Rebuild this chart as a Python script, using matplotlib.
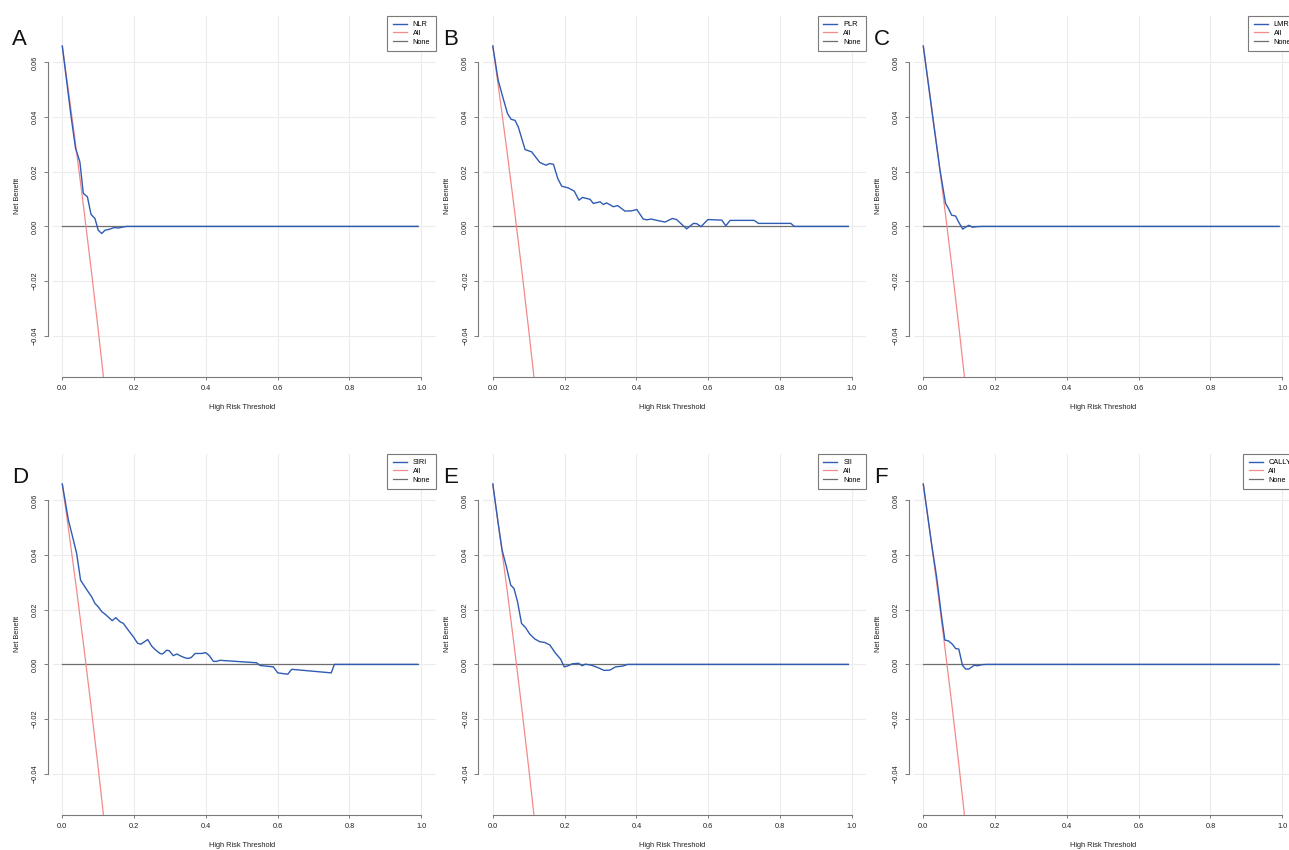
import matplotlib
matplotlib.use("Agg")
import matplotlib.pyplot as plt

# decision curves
thr_all = [0, 0.02, 0.04, 0.06, 0.08, 0.10, 0.12]
nb_all = [0.066, 0.0469, 0.0271, 0.0064, -0.0152, -0.0378, -0.0614]

nlr_x = [0, 0.024, 0.037, 0.043, 0.049, 0.0585, 0.07, 0.08, 0.091, 0.10, 0.11, 0.119, 0.13, 0.145, 0.156, 0.17, 0.18, 0.99]
nlr_y = [0.066, 0.0407, 0.0285, 0.0261, 0.0236, 0.0121, 0.0108, 0.0044, 0.0029, -0.0014, -0.0026, -0.0014, -0.0011, -0.0004, -0.0006, -0.0002, 0, 0]

plr_x = [0, 0.015, 0.029, 0.041, 0.051, 0.062, 0.071, 0.090, 0.108, 0.131, 0.148, 0.159, 0.169, 0.181, 0.192,
         0.210, 0.227, 0.240, 0.250, 0.271, 0.280, 0.299, 0.308, 0.317, 0.336, 0.348, 0.368, 0.387, 0.401, 0.419,
         0.429, 0.441, 0.461, 0.480, 0.500, 0.512, 0.540, 0.559, 0.568, 0.580, 0.599, 0.638, 0.649, 0.661, 0.728,
         0.740, 0.830, 0.840, 0.99]
plr_y = [0.066, 0.0535, 0.0468, 0.0413, 0.0392, 0.0388, 0.0364, 0.0281, 0.0273, 0.0234, 0.0224, 0.0230, 0.0227, 0.0175, 0.0147,
         0.0141, 0.0129, 0.0096, 0.0106, 0.0099, 0.0084, 0.0090, 0.0080, 0.0086, 0.0072, 0.0076, 0.0056, 0.0057, 0.0062, 0.0027,
         0.0024, 0.0027, 0.0021, 0.0016, 0.0029, 0.0025, -0.0009, 0.0011, 0.0010, -0.0001, 0.0025, 0.0023, 0.0002, 0.0022, 0.0022,
         0.0011, 0.0011, 0.0, 0.0]

lmr_x = [0, 0.028, 0.0465, 0.062, 0.070, 0.079, 0.090, 0.098, 0.110, 0.116, 0.127, 0.137, 0.149, 0.163, 0.99]
lmr_y = [0.066, 0.0383, 0.0206, 0.0084, 0.0066, 0.0041, 0.0038, 0.0017, -0.0010, -0.0004, 0.0004, -0.0003, -0.0001, 0, 0]

siri_x = [0, 0.017, 0.031, 0.040, 0.051, 0.063, 0.072, 0.082, 0.091, 0.100, 0.110, 0.119, 0.130, 0.139, 0.149,
          0.161, 0.170, 0.184, 0.198, 0.210, 0.219, 0.229, 0.238, 0.249, 0.258, 0.272, 0.279, 0.291, 0.298, 0.309,
          0.319, 0.331, 0.344, 0.351, 0.359, 0.370, 0.388, 0.399, 0.409, 0.421, 0.430, 0.439, 0.541, 0.551, 0.588,
          0.600, 0.628, 0.639, 0.749, 0.758, 0.99]
siri_y = [0.066, 0.0528, 0.0455, 0.0406, 0.0308, 0.0284, 0.0266, 0.0247, 0.0223, 0.0211, 0.0193, 0.0184, 0.0171, 0.0160, 0.0171,
          0.0156, 0.0150, 0.0125, 0.0101, 0.0077, 0.0074, 0.0083, 0.0091, 0.0067, 0.0055, 0.0040, 0.0038, 0.0052, 0.0050, 0.0032,
          0.0038, 0.0030, 0.0023, 0.0022, 0.0025, 0.0040, 0.0040, 0.0043, 0.0033, 0.0011, 0.0011, 0.0015, 0.0006, -0.0004, -0.0009,
          -0.0031, -0.0036, -0.0018, -0.0031, 0, 0]

sii_x = [0, 0.015, 0.026, 0.038, 0.050, 0.059, 0.069, 0.080, 0.091, 0.103, 0.117, 0.131, 0.145, 0.159, 0.173,
         0.189, 0.199, 0.210, 0.221, 0.239, 0.249, 0.258, 0.275, 0.293, 0.310, 0.326, 0.342, 0.363, 0.375, 0.99]
sii_y = [0.066, 0.0516, 0.0418, 0.0357, 0.0290, 0.0278, 0.0229, 0.0150, 0.0135, 0.0111, 0.0093, 0.0083, 0.0080, 0.0071, 0.0044,
         0.0019, -0.0009, -0.0005, 0.0002, 0.0004, -0.0005, 0.0001, -0.0003, -0.0012, -0.0022, -0.0021, -0.0009, -0.0006, 0, 0]

cally_x = [0, 0.023, 0.037, 0.051, 0.060, 0.070, 0.081, 0.090, 0.099, 0.109, 0.118, 0.127, 0.142, 0.151, 0.163, 0.177, 0.99]
cally_y = [0.066, 0.0442, 0.0321, 0.0174, 0.0089, 0.0086, 0.0074, 0.0058, 0.0056, -0.0003, -0.0017, -0.0017, -0.0003, -0.0005, -0.0001, 0, 0]

letters = ["A", "B", "C", "D", "E", "F"]
names = ["NLR", "PLR", "LMR", "SIRI", "SII", "CALLY"]
curves = [(nlr_x, nlr_y), (plr_x, plr_y), (lmr_x, lmr_y), (siri_x, siri_y), (sii_x, sii_y), (cally_x, cally_y)]

xticks = [0.0, 0.2, 0.4, 0.6, 0.8, 1.0]
yticks = [-0.04, -0.02, 0.0, 0.02, 0.04, 0.06]

plt.rcParams["font.family"] = ["Liberation Sans", "DejaVu Sans"]

W, H = 1289, 850
fig = plt.figure(figsize=(W / 100, H / 100), dpi=100)

BLUE = "#2f5cb4"
RED = "#f48a8a"
GRAY = "#6e6e6e"
FS = 5.3

for i in range(6):
    r, c = divmod(i, 3)
    left = 52.7 + 430.5 * c
    top = 15.7 + 438 * r
    ax = fig.add_axes([left / W, 1 - (top + 361) / H, 383 / W, 361 / H])
    ax.set_xlim(-0.0267, 1.0401)
    ax.set_ylim(-0.0550, 0.0771)

    for t in xticks:
        ax.axvline(t, color="#ececec", lw=0.8, zorder=0)
    for t in yticks:
        ax.axhline(t, color="#ececec", lw=0.8, zorder=0)

    x, y = curves[i]
    ax.plot(x, y, color=BLUE, lw=1.0, label=names[i], zorder=4)
    ax.plot(thr_all, nb_all, color=RED, lw=0.9, label="All", zorder=3)
    ax.plot([0, 0.99], [0, 0], color=GRAY, lw=0.9, label="None", zorder=2)

    for s in ["top", "right"]:
        ax.spines[s].set_visible(False)
    ax.spines["bottom"].set_bounds(0, 1)
    ax.spines["left"].set_bounds(-0.04, 0.06)
    ax.spines["left"].set_position(("outward", 3.4))
    for s in ["bottom", "left"]:
        ax.spines[s].set_color("#7a7a7a")
        ax.spines[s].set_linewidth(0.8)

    ax.set_xticks(xticks)
    ax.set_xticklabels(["0.0", "0.2", "0.4", "0.6", "0.8", "1.0"])
    ax.set_yticks(yticks)
    ax.set_yticklabels(["\u22120.04", "\u22120.02", "0.00", "0.02", "0.04", "0.06"])
    ax.tick_params(axis="both", labelsize=FS, color="#7a7a7a", labelcolor="#222222", width=0.7)
    ax.tick_params(axis="x", length=2.4, pad=3.8)
    ax.tick_params(axis="y", length=2.9, pad=3.8, labelrotation=90)
    for lab in ax.get_yticklabels():
        lab.set_va("center")

    ax.set_xlabel("High Risk Threshold", fontsize=FS, color="#222222")
    ax.xaxis.label.set_va("center")
    ax.xaxis.set_label_coords(0.4937, -0.0848)
    ax.set_ylabel("Net Benefit", fontsize=FS, color="#222222")
    ax.yaxis.label.set_va("center")
    ax.yaxis.set_label_coords(-0.0924, 0.5)

    leg = ax.legend(loc="upper right", fontsize=FS, frameon=True, fancybox=False, framealpha=1,
                    borderaxespad=0, borderpad=0.75, handlelength=1.9, handletextpad=0.8,
                    labelspacing=0.2)
    leg.get_frame().set_edgecolor("#7a7a7a")
    leg.get_frame().set_linewidth(0.8)

    fig.text((12 + 431 * c) / W, 1 - (45 + 438 * r) / H, letters[i], fontsize=16,
             ha="left", va="baseline", color="#111111")

fig.savefig("out.png", dpi=100)
